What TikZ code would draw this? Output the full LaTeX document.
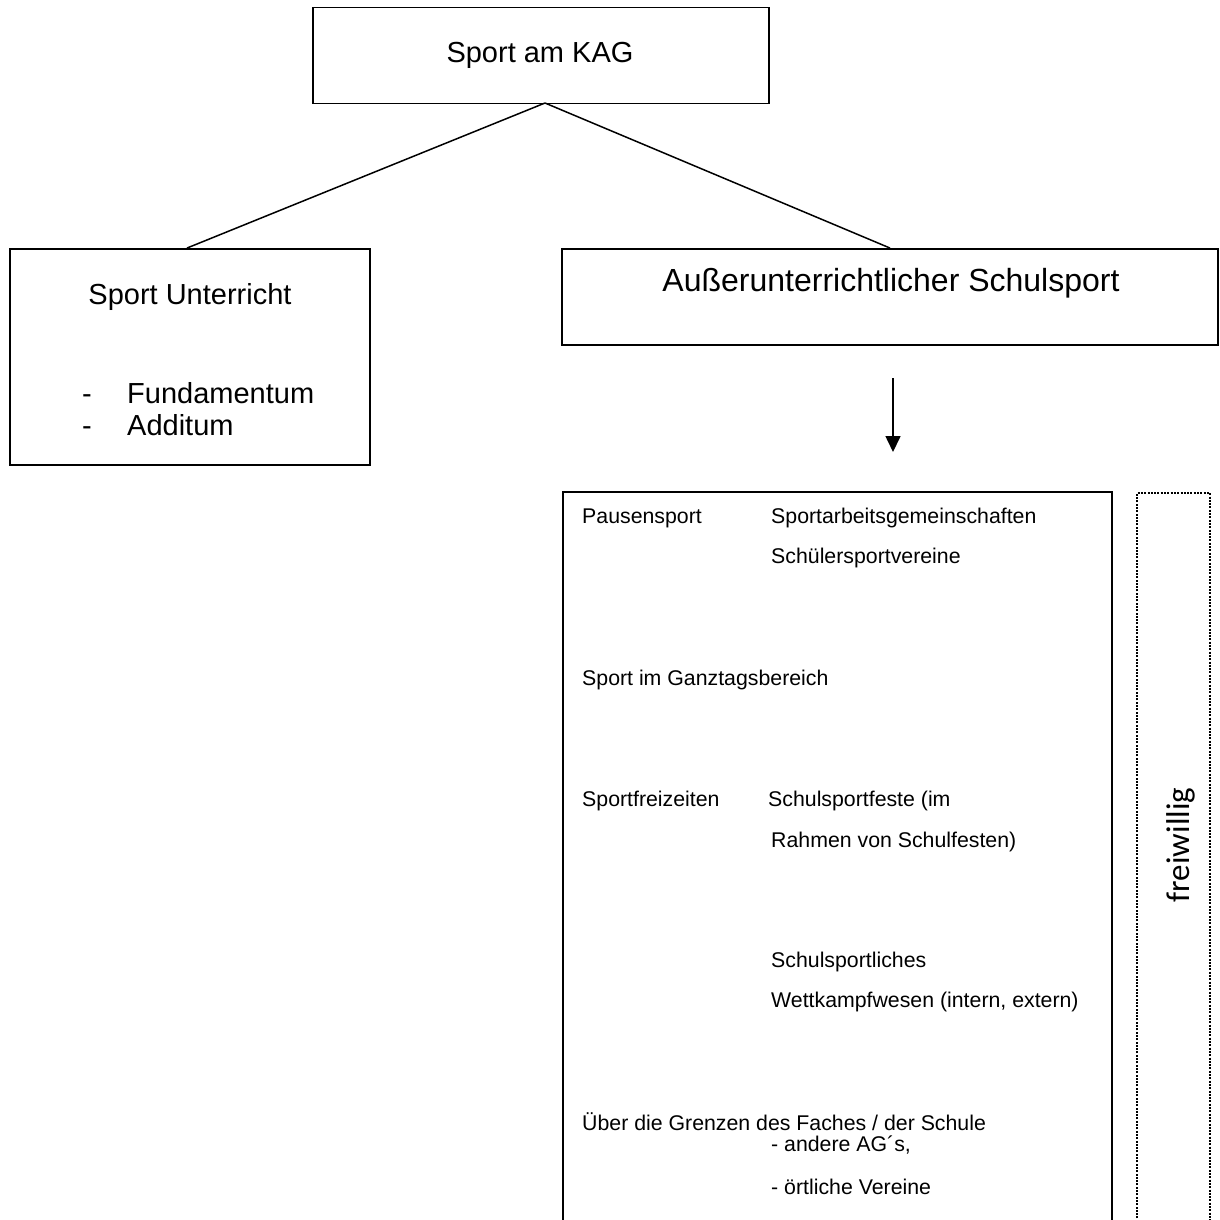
\documentclass[tikz,border=0pt]{standalone}
\usepackage{fontspec}
\setmainfont{Liberation Sans}
\newfontfamily\calibrifont{Carlito}
\usetikzlibrary{arrows.meta}
\begin{document}
\begin{tikzpicture}[x=1pt,y=-1pt,
  boxnode/.style={draw, line width=1.9pt, inner sep=0pt},
  bigtext/.style={inner sep=0pt, font=\fontsize{29}{34}\selectfont},
  smalltext/.style={inner sep=0pt, anchor=base west, font=\fontsize{21.3}{25}\selectfont},
  conn/.style={line width=1.5pt}]
\useasboundingbox (0,0) rectangle (1220,1219);
% boxes
\node[boxnode, minimum width=456pt, minimum height=96pt] (top) at (541,55.5) {};
\node[boxnode, minimum width=360pt, minimum height=216pt] (left) at (190,357) {};
\node[boxnode, minimum width=656pt, minimum height=96pt] (right) at (890,297) {};
% texts of upper boxes
\node[bigtext, anchor=base] (ttop) at (540,62) {Sport am KAG};
\node[bigtext, anchor=base] (tleft) at (190,304) {Sport Unterricht};
\node[bigtext, anchor=base west] (d1) at (82,403) {-};
\node[bigtext, anchor=base west] (fund) at (127,403) {Fundamentum};
\node[bigtext, anchor=base west] (d2) at (82,435) {-};
\node[bigtext, anchor=base west] (add) at (127,435) {Additum};
\node[inner sep=0pt, anchor=base, font=\fontsize{32}{37}\selectfont] (tright) at (891,291) {Außerunterrichtlicher Schulsport};
% connectors
\coordinate (apex) at (545,103);
\draw[conn] (apex) -- ([xshift=-3pt]left.north);
\draw[conn] (apex) -- (right.north);
\coordinate (arrS) at (893,378);
\coordinate (arrE) at (893,452);
\draw[line width=1.6pt, -{Triangle[width=15pt,length=16pt]}] (arrS) -- (arrE);
% big open box
\draw[line width=2.2pt] (563,1225) -- (563,492) -- (1112,492) -- (1112,1225);
% dotted box
\draw[line width=2pt, dash pattern=on 2pt off 1.3pt] (1137,1225) -- (1137,493) -- (1210,493) -- (1210,1225);
\node[inner sep=0pt, rotate=90, anchor=base, font=\calibrifont\fontsize{33}{38}\selectfont] (frei) at (1189,845) {freiwillig};
% list texts
\node[smalltext] (t1) at (582,523) {Pausensport};
\node[smalltext] (t2) at (771,523) {Sportarbeitsgemeinschaften};
\node[smalltext] (t3) at (771,563) {Schülersportvereine};
\node[smalltext] (t4) at (582,685) {Sport im Ganztagsbereich};
\node[smalltext] (t5) at (582,806) {Sportfreizeiten};
\node[smalltext] (t6) at (768,806) {Schulsportfeste (im};
\node[smalltext] (t7) at (771,847) {Rahmen von Schulfesten)};
\node[smalltext] (t8) at (771,967) {Schulsportliches};
\node[smalltext] (t9) at (771,1007) {Wettkampfwesen (intern, extern)};
\node[smalltext] (t10) at (582,1130) {Über die Grenzen des Faches / der Schule};
\node[smalltext] (t11) at (771,1151) {- andere AG´s,};
\node[smalltext] (t12) at (771,1194) {- örtliche Vereine};
\end{tikzpicture}
\end{document}
